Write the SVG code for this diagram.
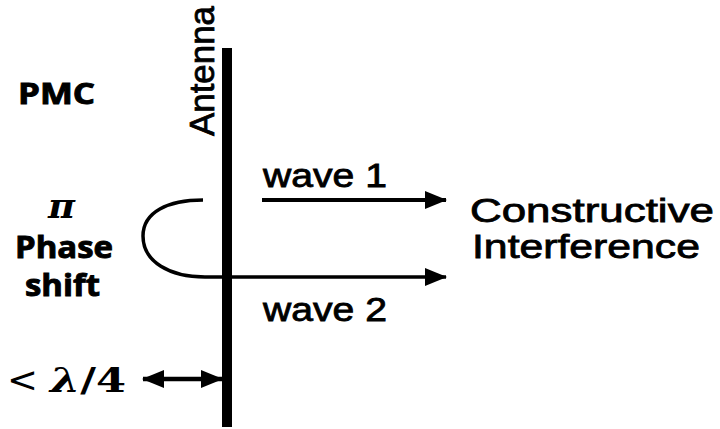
<svg xmlns="http://www.w3.org/2000/svg" width="720" height="429" viewBox="0 0 720 429">
<style>
.sans{font-family:"Liberation Sans",Arial,sans-serif;fill:#000;stroke:#000;stroke-width:0.8}
.bold{font-family:"Open Sans","Liberation Sans",sans-serif;font-weight:bold;fill:#000;stroke:#000;stroke-width:0.9}
.serif{font-family:"DejaVu Serif","Liberation Serif",serif;fill:#000}
.ln{stroke:#000;fill:none}
</style>
<defs>
<marker id="ah" markerWidth="22" markerHeight="20" refX="21" refY="10" orient="auto" markerUnits="userSpaceOnUse">
<path d="M0,1 L22,10 L0,19 Z" fill="#000"/>
</marker>
<marker id="ahs" markerWidth="22" markerHeight="20" refX="21" refY="10" orient="auto-start-reverse" markerUnits="userSpaceOnUse">
<path d="M0,1 L22,10 L0,19 Z" fill="#000"/>
</marker>
</defs>
<rect width="720" height="429" fill="#fff"/>
<g id="antenna">
<rect x="222" y="48" width="10" height="379" fill="#000"/>
<text class="sans" font-size="35" transform="translate(214,136) rotate(-90)" textLength="130" lengthAdjust="spacingAndGlyphs">Antenna</text>
</g>
<g id="pmc">
<text class="bold" x="18" y="104" font-size="28" textLength="77" lengthAdjust="spacingAndGlyphs">PMC</text>
</g>
<g id="phase">
<text class="serif" x="48" y="218" font-size="34" font-style="italic" font-weight="bold" textLength="27" lengthAdjust="spacingAndGlyphs">π</text>
<text class="bold" x="15" y="258" font-size="30" textLength="98" lengthAdjust="spacingAndGlyphs">Phase</text>
<text class="bold" x="25" y="296" font-size="30" textLength="75" lengthAdjust="spacingAndGlyphs">shift</text>
</g>
<g id="lambda">
<text font-family="DejaVu Sans,sans-serif" x="7" y="392" font-size="36" textLength="31" lengthAdjust="spacingAndGlyphs">&lt;</text>
<text class="serif" x="50" y="392" font-size="34" font-weight="bold" textLength="76" lengthAdjust="spacingAndGlyphs"><tspan font-style="italic">λ</tspan>/4</text>
</g>
<g id="labels">
<text class="sans" x="263" y="187" font-size="33" textLength="124" lengthAdjust="spacingAndGlyphs">wave 1</text>
<text class="sans" x="263" y="321" font-size="33" textLength="124" lengthAdjust="spacingAndGlyphs">wave 2</text>
<text class="sans" x="470" y="222" font-size="33" textLength="244" lengthAdjust="spacingAndGlyphs">Constructive</text>
<text class="sans" x="472" y="258" font-size="33" textLength="228" lengthAdjust="spacingAndGlyphs">Interference</text>
</g>
<g id="connectors">
<line class="ln" x1="262" y1="200" x2="446" y2="200" stroke-width="4" marker-end="url(#ah)"/>
<path class="ln" d="M203,200 C168,200 143,212 143,236 C143,262 170,277 205,277 L446,277" stroke-width="3.5" marker-end="url(#ah)"/>
<line class="ln" x1="143" y1="379" x2="222" y2="379" stroke-width="4.5" marker-start="url(#ahs)" marker-end="url(#ah)"/>
</g>
</svg>
